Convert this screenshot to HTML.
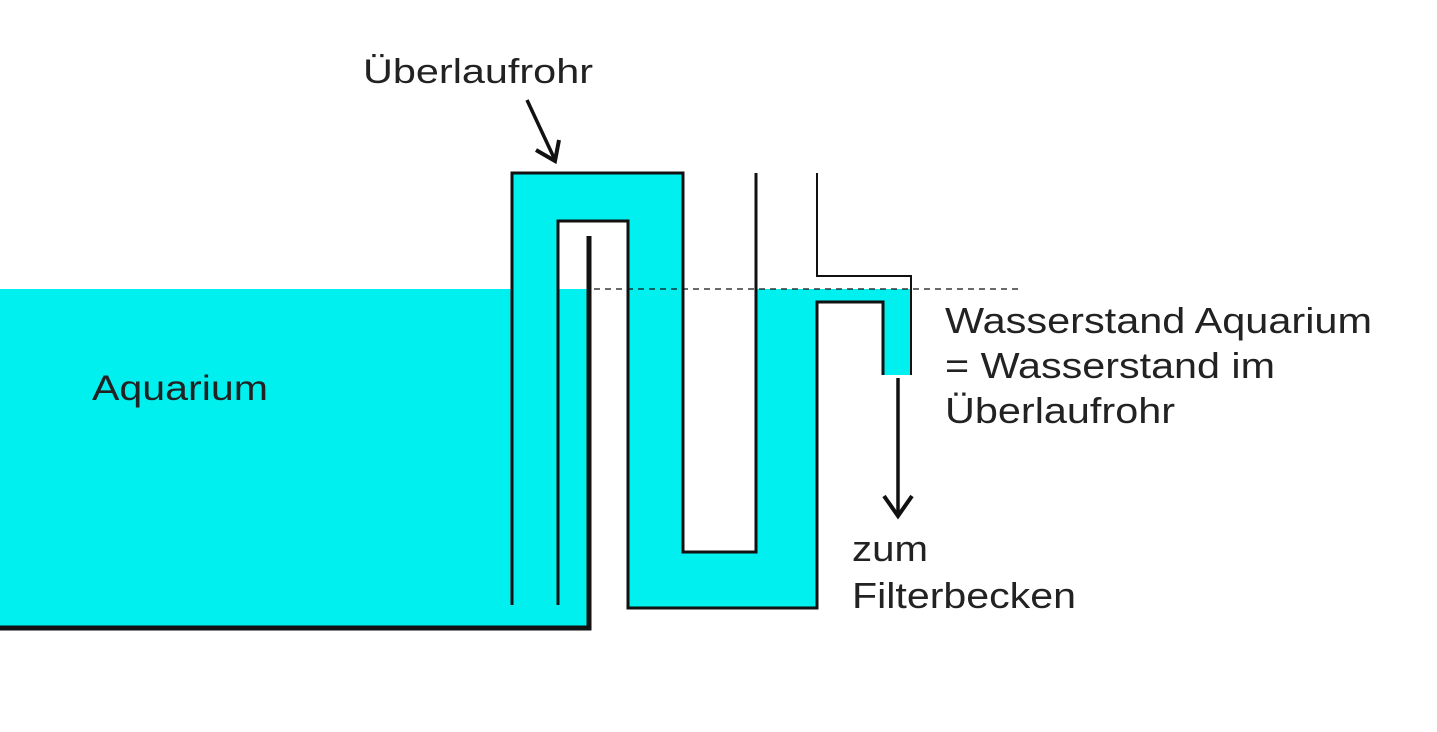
<!DOCTYPE html>
<html><head><meta charset="utf-8"><style>html,body{margin:0;padding:0;background:#fff}svg{display:block}</style></head><body>
<svg width="1437" height="732" viewBox="0 0 1437 732" xmlns="http://www.w3.org/2000/svg" font-family="Liberation Sans, Arial, sans-serif" fill="#222">
<rect width="1437" height="732" fill="#fff"/>
<g fill="#00f0f0">
<rect x="0" y="289" width="589" height="339"/>
<rect x="512" y="173" width="46" height="432"/>
<rect x="512" y="173" width="171" height="48"/>
<rect x="628" y="173" width="55" height="435"/>
<rect x="628" y="552" width="189" height="56"/>
<rect x="756" y="289" width="61" height="319"/>
<rect x="817" y="289" width="94" height="13"/>
<rect x="883" y="289" width="28" height="86"/>
</g>
<g fill="none" stroke="#111" stroke-width="3">
<polyline points="512,605 512,173 683,173 683,552 756,552 756,173"/>
<polyline points="558,605 558,221 628,221 628,608 817,608 817,302 883,302 883,375"/>
<polyline points="817,173 817,276 911,276 911,375" stroke-width="2"/>
<polyline points="589,236 589,628 0,628" stroke-width="5"/>
<line x1="594" y1="289" x2="1022" y2="289" stroke-width="1.3" stroke-dasharray="6,5"/>
<line x1="898" y1="378" x2="898" y2="515" stroke-width="3.5"/>
<polyline points="884,496 898,516 912,496" stroke-width="4"/>
<line x1="527" y1="100" x2="555" y2="160" stroke-width="3.5"/>
<polyline points="536,150 555,161 559,140" stroke-width="4"/>
</g>
<text x="363" y="83" font-size="34" textLength="230" lengthAdjust="spacingAndGlyphs">Überlaufrohr</text>
<text x="92" y="400" font-size="35" textLength="176" lengthAdjust="spacingAndGlyphs">Aquarium</text>
<text x="945" y="333" font-size="36" textLength="427" lengthAdjust="spacingAndGlyphs">Wasserstand Aquarium</text>
<text x="945" y="378" font-size="36" textLength="330" lengthAdjust="spacingAndGlyphs">= Wasserstand im</text>
<text x="945" y="423" font-size="36" textLength="230" lengthAdjust="spacingAndGlyphs">Überlaufrohr</text>
<text x="852" y="561" font-size="36" textLength="76" lengthAdjust="spacingAndGlyphs">zum</text>
<text x="852" y="608" font-size="36" textLength="224" lengthAdjust="spacingAndGlyphs">Filterbecken</text>
</svg>
</body></html>
